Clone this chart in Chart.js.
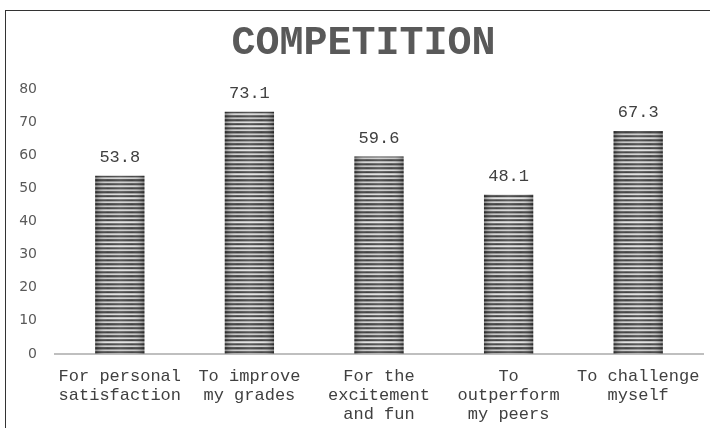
<!DOCTYPE html>
<html>
<head>
<meta charset="utf-8">
<script src="https://cdn.jsdelivr.net/npm/chart.js@4/dist/chart.umd.min.js"></script>
<style>
html,body{margin:0;padding:0;background:#fff;}
#wrap{position:relative;width:710px;height:428px;}
#frame{position:absolute;left:5px;top:10px;width:705px;height:418px;border-left:1px solid #333;border-top:1px solid #333;box-sizing:border-box;pointer-events:none;}
canvas{position:absolute;left:0;top:0;}
</style>
</head>
<body>
<div id="wrap">
<canvas id="c" width="710" height="428"></canvas>
<div id="frame"></div>
</div>
<script>
const categories = [
  ["For personal","satisfaction"],
  ["To improve","my grades"],
  ["For the","excitement","and fun"],
  ["To","outperform","my peers"],
  ["To challenge","myself"]
];
const values = [53.8, 73.1, 59.6, 48.1, 67.3];
const yTicks = [0, 10, 20, 30, 40, 50, 60, 70, 80];

function makePattern() {
  const p = document.createElement('canvas');
  p.width = 8; p.height = 24;
  const g = p.getContext('2d');
  const rows = ['#3c3c3c','#9a9a9a','#d8d8d8','#555555','#3a3a3a','#b8b8b8',
                '#e0e0e0','#6a6a6a','#404040','#a0a0a0','#cfcfcf','#4a4a4a',
                '#383838','#8a8a8a','#c8c8c8','#5a5a5a','#3e3e3e','#aaaaaa',
                '#d4d4d4','#606060','#3a3a3a','#949494','#c4c4c4','#505050'];
  rows.forEach((c,i)=>{g.fillStyle=c; g.fillRect(0,i,8,1);});
  return document.getElementById('c').getContext('2d').createPattern(p,'repeat');
}

const overlayPlugin = {
  id: 'overlay',
  afterLayout(chart) {
    // let the y tick labels extend left of the (narrowed) axis box without clipping
    chart.scales.y.left = 0;
  },
  afterDatasetsDraw(chart) {
    const ctx = chart.ctx;
    const meta = chart.getDatasetMeta(0);
    ctx.save();
    meta.data.forEach((el, i) => {
      const left = el.x - el.width/2, right = el.x + el.width/2;
      const top = el.y, bottom = el.base;
      const gr = ctx.createLinearGradient(left, 0, right, 0);
      gr.addColorStop(0, 'rgba(0,0,0,0.35)');
      gr.addColorStop(0.25, 'rgba(255,255,255,0.05)');
      gr.addColorStop(0.5, 'rgba(255,255,255,0.15)');
      gr.addColorStop(0.75, 'rgba(255,255,255,0.05)');
      gr.addColorStop(1, 'rgba(0,0,0,0.35)');
      ctx.fillStyle = gr;
      ctx.fillRect(left, top, right-left, bottom-top);
      ctx.fillStyle = '#404040';
      ctx.font = '17px "Liberation Mono", "Courier New", monospace';
      ctx.textAlign = 'center';
      ctx.textBaseline = 'bottom';
      ctx.fillText(values[i].toFixed(1), el.x, top - 10);
    });
    ctx.restore();
  }
};

new Chart(document.getElementById('c'), {
  type: 'bar',
  data: {
    labels: categories,
    datasets: [{
      data: values,
      backgroundColor: makePattern(),
      borderWidth: 0,
      barPercentage: 0.76,
      categoryPercentage: 0.5
    }]
  },
  options: {
    responsive: false,
    animation: false,
    layout: { padding: { left: 24, right: 7, top: 10, bottom: -1 } },
    plugins: {
      legend: { display: false },
      tooltip: { enabled: false },
      title: {
        display: true,
        text: 'COMPETITION',
        color: '#595959',
        font: { family: '"Liberation Mono", "Courier New", monospace', size: 40, weight: 'bold' },
        padding: { top: 10, bottom: 21 }
      }
    },
    scales: {
      x: {
        grid: { display: false },
        border: { display: true, color: '#bfbfbf', width: 2 },
        afterFit(axis) { axis.paddingLeft = 0; axis.paddingRight = 0; },
        ticks: {
          color: '#404040',
          autoSkip: false,
          maxRotation: 0,
          padding: 5,
          font: { family: '"Liberation Mono", "Courier New", monospace', size: 17, lineHeight: 1.12 }
        }
      },
      y: {
        min: 0, max: 80,
        grid: { display: false, drawTicks: false },
        border: { display: false },
        afterBuildTicks(axis) { axis.ticks = yTicks.map(v => ({ value: v })); },
        afterFit(axis) { axis.width = 31; },
        ticks: {
          color: '#595959',
          padding: 18,
          font: { family: '"DejaVu Sans", sans-serif', size: 14 }
        }
      }
    }
  },
  plugins: [overlayPlugin]
});
</script>
</body>
</html>
